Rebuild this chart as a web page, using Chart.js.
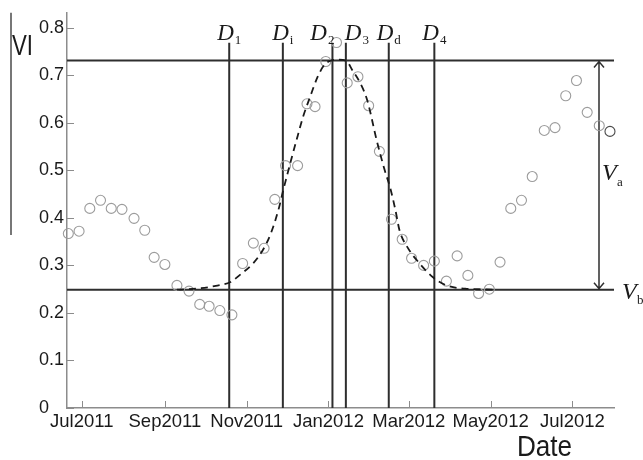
<!DOCTYPE html>
<html>
<head>
<meta charset="utf-8">
<script src="https://cdn.jsdelivr.net/npm/chart.js@4.4.1/dist/chart.umd.min.js"></script>
<style>
  html, body { margin: 0; padding: 0; background: #fff; }
  #wrap { width: 643px; height: 460px; }
</style>
</head>
<body>
<div id="wrap"><canvas id="vi-chart"></canvas></div>
<script>
// observed VI (8-day composites)
const obsDates = ['2011-06-21','2011-06-29','2011-07-07','2011-07-15','2011-07-23','2011-07-31','2011-08-09','2011-08-17','2011-08-24','2011-09-01',
  '2011-09-10','2011-09-19','2011-09-27','2011-10-04','2011-10-12','2011-10-21','2011-10-29','2011-11-06','2011-11-14','2011-11-22',
  '2011-11-30','2011-12-09','2011-12-16','2011-12-22','2011-12-30','2012-01-07','2012-01-15','2012-01-23','2012-01-31','2012-02-08',
  '2012-02-17','2012-02-25','2012-03-03','2012-03-12','2012-03-20','2012-03-29','2012-04-06','2012-04-14','2012-04-22','2012-04-30',
  '2012-05-08','2012-05-16','2012-05-24','2012-06-01','2012-06-10','2012-06-18','2012-06-26','2012-07-04','2012-07-12','2012-07-21',
  '2012-07-29'];
const obsVI = [0.367,0.372,0.420,0.437,0.420,0.418,0.399,0.374,0.317,0.302,
  0.258,0.246,0.218,0.214,0.205,0.196,0.304,0.347,0.336,0.439,
  0.510,0.510,0.640,0.634,0.729,0.769,0.684,0.697,0.636,0.540,
  0.397,0.355,0.315,0.300,0.309,0.267,0.320,0.279,0.241,0.250,
  0.307,0.420,0.437,0.487,0.584,0.590,0.657,0.689,0.622,0.594,
  0.582];

// fitted curve (dashed)
const fitDates = ['2011-09-10','2011-09-28','2011-10-09','2011-10-20','2011-10-27','2011-11-06','2011-11-13','2011-11-19','2011-11-25','2011-11-28',
  '2011-12-04','2011-12-09','2011-12-13','2011-12-18','2011-12-24','2011-12-29','2012-01-03','2012-01-08','2012-01-14','2012-01-19',
  '2012-01-25','2012-01-30','2012-02-06','2012-02-12','2012-02-16','2012-02-20','2012-02-23','2012-02-29','2012-03-09','2012-03-19',
  '2012-03-29','2012-04-12','2012-05-06'];
const fitVI = [0.249,0.252,0.257,0.265,0.280,0.305,0.332,0.367,0.420,0.455,
  0.520,0.572,0.612,0.652,0.697,0.722,0.731,0.733,0.731,0.710,
  0.682,0.647,0.563,0.500,0.464,0.416,0.374,0.338,0.304,0.275,
  0.258,0.251,0.249];

// phenology markers
const markerSubs = ['1','i','2','3','d','4'];
const markerDates = ['2011-10-19','2011-11-28','2012-01-04','2012-01-14','2012-02-15','2012-03-20'];
const markerAlign = ['center','center','end','start','center','center'];
const vaLevel = 0.731;
const vbLevel = 0.249;

const yTicks = [0, 0.1, 0.2, 0.3, 0.4, 0.5, 0.6, 0.7, 0.8];
const xTickDates = ['2011-07-01','2011-09-01','2011-11-01','2012-01-01','2012-03-01','2012-05-01','2012-07-01'];
const monthNames = ['Jan','Feb','Mar','Apr','May','Jun','Jul','Aug','Sep','Oct','Nov','Dec'];
const xRange = ['2011-06-20', '2012-08-01'];
const yMax = 0.8315;

function toDay(s) {
    const p = s.split('-');
    return Date.UTC(+p[0], +p[1] - 1, +p[2]) / 86400000;
}

const refLines = {
    id: 'refLines',
    beforeDatasetsDraw(chart) {
        const { ctx, chartArea: a, scales: { x, y } } = chart;
        ctx.save();
        ctx.strokeStyle = '#2e2e2e';
        ctx.lineWidth = 2;
        ctx.beginPath();
        [vaLevel, vbLevel].forEach(v => {
            const py = y.getPixelForValue(v);
            ctx.moveTo(a.left, py);
            ctx.lineTo(a.right, py);
        });
        markerDates.forEach(d => {
            const px = x.getPixelForValue(toDay(d));
            ctx.moveTo(px, a.top + 30);
            ctx.lineTo(px, a.bottom);
        });
        ctx.stroke();

        // double arrow for Va
        const ax = a.right - 15;
        const yt = y.getPixelForValue(vaLevel), yb = y.getPixelForValue(vbLevel);
        ctx.lineWidth = 1.5;
        ctx.beginPath();
        ctx.moveTo(ax, yt); ctx.lineTo(ax, yb);
        ctx.moveTo(ax - 5, yt + 7); ctx.lineTo(ax, yt + 1); ctx.lineTo(ax + 5, yt + 7);
        ctx.moveTo(ax - 5, yb - 7); ctx.lineTo(ax, yb - 1); ctx.lineTo(ax + 5, yb - 7);
        ctx.stroke();
        ctx.restore();
    },
    afterDraw(chart) {
        const { ctx, chartArea: a, scales: { x, y } } = chart;
        ctx.save();
        // inward tick marks
        ctx.strokeStyle = '#8c8c8c';
        ctx.lineWidth = 1;
        ctx.beginPath();
        x.ticks.forEach(t => {
            const px = Math.round(x.getPixelForValue(t.value)) + 0.5;
            ctx.moveTo(px, a.bottom); ctx.lineTo(px, a.bottom - 7);
        });
        y.ticks.forEach(t => {
            const py = Math.round(y.getPixelForValue(t.value)) + 0.5;
            ctx.moveTo(a.left, py); ctx.lineTo(a.left + 7, py);
        });
        ctx.stroke();

        // stray bar at far left
        ctx.strokeStyle = '#777';
        ctx.lineWidth = 2;
        ctx.beginPath();
        ctx.moveTo(11, a.top); ctx.lineTo(11, 235);
        ctx.stroke();

        ctx.fillStyle = '#1a1a1a';
        ctx.textBaseline = 'alphabetic';
        ctx.textAlign = 'left';

        // D labels
        markerDates.forEach((d, i) => {
            const px = x.getPixelForValue(toDay(d));
            ctx.font = 'italic 23px "Liberation Serif"';
            const wD = ctx.measureText('D').width;
            ctx.font = '13px "Liberation Serif"';
            const wS = ctx.measureText(markerSubs[i]).width;
            const w = wD + wS + 1;
            let x0 = px - w / 2;
            if (markerAlign[i] === 'end') x0 = px + 2 - w;
            if (markerAlign[i] === 'start') x0 = px - 1;
            ctx.font = 'italic 23px "Liberation Serif"';
            ctx.fillText('D', x0, a.top + 27);
            ctx.font = '13px "Liberation Serif"';
            ctx.fillText(markerSubs[i], x0 + wD + 1, a.top + 31);
        });

        // Va, Vb
        const yt = y.getPixelForValue(vaLevel), yb = y.getPixelForValue(vbLevel);
        ctx.font = 'italic 24px "Liberation Serif"';
        ctx.fillText('V', a.right - 12, (yt + yb) / 2 + 5);
        ctx.font = '13px "Liberation Serif"';
        ctx.fillText('a', a.right + 3, (yt + yb) / 2 + 11);
        ctx.font = 'italic 24px "Liberation Serif"';
        ctx.fillText('V', a.right + 8, yb + 9);
        ctx.font = '13px "Liberation Serif"';
        ctx.fillText('b', a.right + 23, yb + 14);

        // axis titles
        ctx.font = '30px "Liberation Sans"';
        ctx.save();
        ctx.translate(12, 55);
        ctx.scale(0.74, 1);
        ctx.fillText('VI', 0, 0);
        ctx.restore();
        ctx.font = '29px "Liberation Sans"';
        ctx.save();
        ctx.translate(517, 456);
        ctx.scale(0.9, 1);
        ctx.fillText('Date', 0, 0);
        ctx.restore();
        ctx.restore();
    }
};

const ctx = document.getElementById('vi-chart').getContext('2d');
new Chart(ctx, {
    type: 'scatter',
    data: {
        datasets: [
            {
                type: 'line',
                data: fitDates.map((d, i) => ({ x: toDay(d), y: fitVI[i] })),
                borderColor: '#1a1a1a',
                borderWidth: 1.8,
                borderDash: [7, 5],
                pointRadius: 0,
                fill: false,
                cubicInterpolationMode: 'monotone'
            },
            {
                data: obsDates.map((d, i) => ({ x: toDay(d), y: obsVI[i] })),
                clip: false,
                pointRadius: 5,
                pointBorderWidth: 1.1,
                pointBackgroundColor: 'rgba(0,0,0,0)',
                pointBorderColor: c => c.dataIndex === obsVI.length - 1 ? '#4a4a4a' : '#9c9c9c'
            }
        ]
    },
    options: {
        responsive: true,
        maintainAspectRatio: false,
        animation: false,
        layout: { padding: { left: 39, right: 29, top: 12, bottom: 22 } },
        plugins: { legend: { display: false }, tooltip: { enabled: false } },
        scales: {
            x: {
                type: 'linear',
                min: toDay(xRange[0]),
                max: toDay(xRange[1]),
                afterBuildTicks: s => { s.ticks = xTickDates.map(d => ({ value: toDay(d) })); },
                afterFit: s => { s.height = 30; },
                grid: { drawOnChartArea: false, drawTicks: false },
                border: { color: '#8c8c8c', width: 1.5 },
                ticks: {
                    autoSkip: false,
                    maxRotation: 0,
                    padding: 3,
                    color: '#1a1a1a',
                    font: { family: 'Liberation Sans', size: 18.5 },
                    callback: v => {
                        const dt = new Date(v * 86400000);
                        return monthNames[dt.getUTCMonth()] + dt.getUTCFullYear();
                    }
                }
            },
            y: {
                min: 0,
                max: yMax,
                afterBuildTicks: s => { s.ticks = yTicks.map(v => ({ value: v })); },
                afterFit: s => { s.width = 28; },
                grid: { drawOnChartArea: false, drawTicks: false },
                border: { color: '#8c8c8c', width: 1.5 },
                ticks: {
                    crossAlign: 'far',
                    padding: 2,
                    color: '#1a1a1a',
                    font: { family: 'Liberation Sans', size: 18 },
                    callback: v => v === 0 ? '0' : v.toFixed(1)
                }
            }
        }
    },
    plugins: [refLines]
});
</script>
</body>
</html>
